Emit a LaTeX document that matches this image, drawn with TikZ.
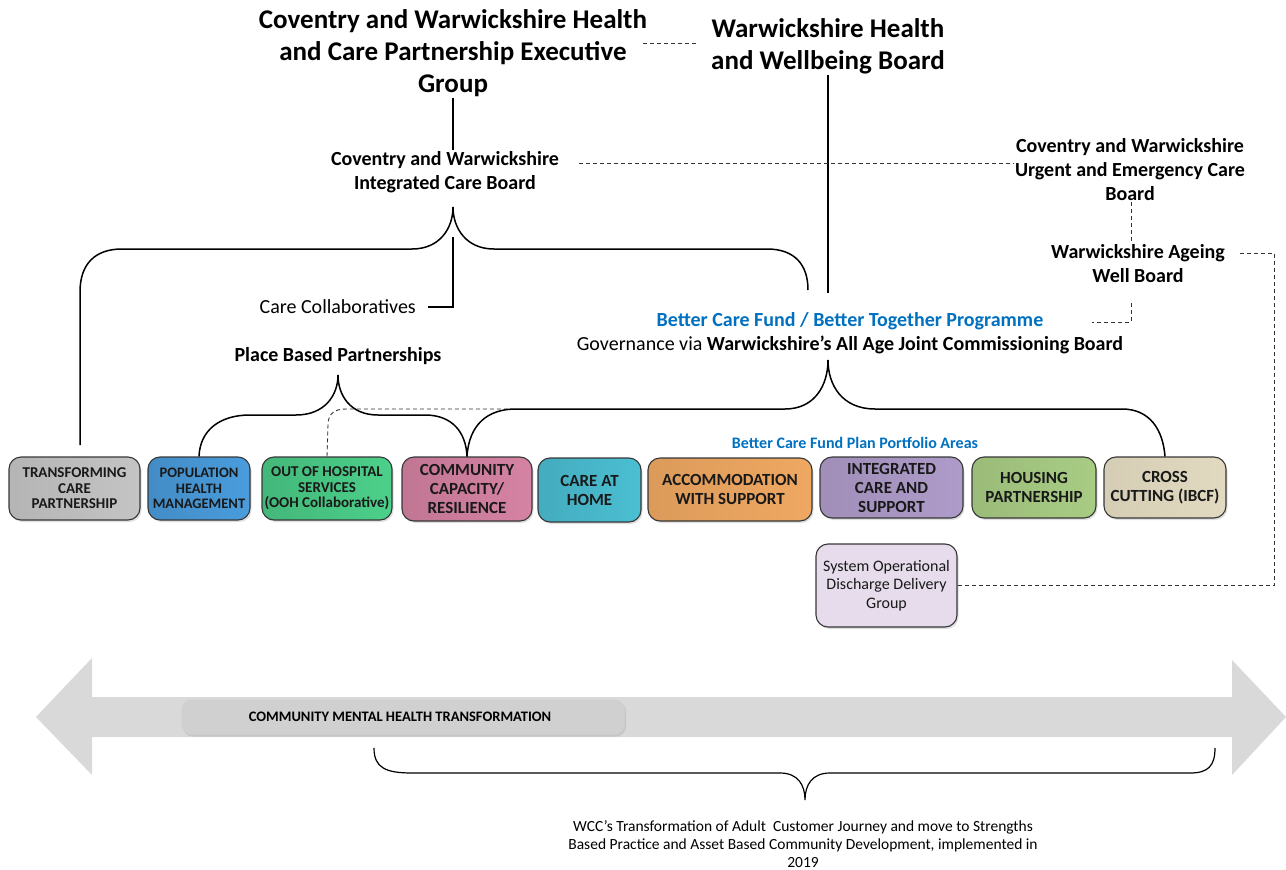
\documentclass[tikz,border=0pt]{standalone}
\usepackage{fontspec}
\setmainfont{Carlito}
\usetikzlibrary{shadows,calc}
\definecolor{bcfblue}{RGB}{0,112,192}
\definecolor{boxline}{RGB}{55,55,55}
\definecolor{cTCP}{RGB}{196,196,196}
\definecolor{cPHM}{RGB}{74,156,220}
\definecolor{cOOH}{RGB}{76,208,138}
\definecolor{cCCR}{RGB}{214,131,163}
\definecolor{cCAH}{RGB}{75,191,211}
\definecolor{cAWS}{RGB}{239,168,98}
\definecolor{cICS}{RGB}{174,155,201}
\definecolor{cHP}{RGB}{168,204,132}
\definecolor{cCC}{RGB}{226,218,192}
\definecolor{cSOD}{RGB}{230,220,235}
\definecolor{arrowgray}{RGB}{217,217,217}
\definecolor{bargray}{RGB}{208,208,208}
\newcommand{\fsz}[2]{\fontsize{#1}{#2}\selectfont}
\begin{document}
\begin{tikzpicture}[x=1pt,y=-1pt,
  titletext/.style={font=\bfseries\fsz{27}{32}, align=center, inner sep=1pt},
  headtext/.style={font=\bfseries\fsz{20}{24}, align=center, inner sep=1pt},
  plaintext/.style={font=\fsz{20}{24}, align=center, inner sep=1pt},
  pbox/.style={rounded corners=12pt, draw=boxline, line width=1.1pt, align=center, inner sep=1pt,
     text=black!90, drop shadow={shadow xshift=1.5pt, shadow yshift=-2pt, opacity=0.25}},
  smallbox/.style={pbox, font=\bfseries\fsz{14.5}{15.5}},
  bigbox/.style={pbox, font=\bfseries\fsz{17}{19}},
  link/.style={line width=1.1pt, black},
  brace/.style={line width=1.5pt, black},
  dlink/.style={line width=0.9pt, black!80, dash pattern=on 4pt off 3pt},
]
\useasboundingbox (0,0) rectangle (1286,870);

% ---- big double arrow ----
\fill[arrowgray] (36,717) -- (92,658) -- (92,697) -- (1232,697) -- (1232,660) -- (1286,717)
  -- (1232,775) -- (1232,737) -- (92,737) -- (92,775) -- cycle;
\node[rounded corners=10pt, fill=bargray, minimum width=443, minimum height=35, inner sep=0pt,
  drop shadow={shadow xshift=1.5pt, shadow yshift=-2pt, opacity=0.2}] (cmht) at (403,717) {};
\node[font=\bfseries\fsz{14.5}{16}] (cmhtlabel) at (400,717) {COMMUNITY MENTAL HEALTH TRANSFORMATION};

% ---- top texts ----
\node[titletext] (exec) at (453,53) {Coventry and Warwickshire Health\\and Care Partnership Executive\\Group};
\node[titletext] (hwb) at (828,46) {Warwickshire Health\\and Wellbeing Board};
\node[headtext] (icb) at (445,172) {Coventry and Warwickshire\\Integrated Care Board};
\node[headtext] (uec) at (1130,170) {Coventry and Warwickshire\\Urgent and Emergency Care\\Board};
\node[headtext] (awb) at (1138,264) {Warwickshire Ageing\\Well Board};
\node[plaintext, anchor=east] (cc) at (417,307) {Care Collaboratives};
\node[headtext] (pbp) at (338,356) {Place Based Partnerships};
\node[headtext, text=bcfblue] (bcf) at (850,321) {Better Care Fund / Better Together Programme};
\node[plaintext] (gov) at (850,345) {Governance via \textbf{Warwickshire’s All Age Joint Commissioning Board}};
\node[font=\bfseries\fsz{16}{18}, text=bcfblue, inner sep=1pt] (port) at (855,443) {Better Care Fund Plan Portfolio Areas};

% ---- boxes ----
\node[smallbox, font=\bfseries\fsz{15}{15.5}, left color=cTCP!92!black, right color=cTCP, minimum width=131, minimum height=63] (tcp) at (74.5,488.5) {TRANSFORMING\\CARE\\PARTNERSHIP};
\node[smallbox, left color=cPHM!90!black, right color=cPHM, minimum width=102, minimum height=63] (phm) at (199,488.5) {POPULATION\\HEALTH\\MANAGEMENT};
\node[smallbox, font=\bfseries\fsz{15}{15.5}, left color=cOOH!88!black, right color=cOOH, minimum width=130, minimum height=63] (ooh) at (327,488.5) {OUT OF HOSPITAL\\SERVICES\\(OOH Collaborative)};
\node[bigbox, left color=cCCR!90!black, right color=cCCR, minimum width=130, minimum height=64] (ccr) at (467,489) {COMMUNITY\\CAPACITY/\\RESILIENCE};
\node[bigbox, left color=cCAH!90!black, right color=cCAH, minimum width=103, minimum height=64] (cah) at (589.5,490) {CARE AT\\HOME};
\node[bigbox, left color=cAWS!92!black, right color=cAWS, minimum width=164, minimum height=63] (aws) at (730,489.5) {ACCOMMODATION\\WITH SUPPORT};
\node[bigbox, left color=cICS!92!black, right color=cICS, minimum width=143, minimum height=61] (ics) at (891.5,487.5) {INTEGRATED\\CARE AND\\SUPPORT};
\node[bigbox, left color=cHP!92!black, right color=cHP, minimum width=124, minimum height=61] (hp) at (1034,487.5) {HOUSING\\PARTNERSHIP};
\node[bigbox, left color=cCC!94!black, right color=cCC, minimum width=122, minimum height=61] (ccut) at (1165,487.5) {CROSS\\CUTTING (IBCF)};
\node[pbox, font=\fsz{16}{18.5}, fill=cSOD, minimum width=141, minimum height=83] (sod) at (886.5,585.5) {System Operational\\Discharge Delivery\\Group};

% ---- bottom text ----
\node[font=\fsz{15.5}{18}, align=center, inner sep=1pt] (wcc) at (803,844) {WCC’s Transformation of Adult\ \ Customer Journey and move to Strengths\\Based Practice and Asset Based Community Development, implemented in\\2019};

% ---- coordinates ----
\coordinate (icbtip) at (453,207);
\coordinate (tcptop) at (80,445);
\coordinate (icbend) at (808,290);
\coordinate (ccjoin) at (453,237);
\coordinate (ccend) at (428,307);
\coordinate (pbptip) at (338,375);
\coordinate (bcftip) at (828,360);
\coordinate (hwbend) at (828,293);
\coordinate (icbr) at (579,163);
\coordinate (rt) at (1274,253);
\coordinate (awbr) at (1240,253);
\coordinate (bcfr) at (1092,322);
\coordinate (bl) at (374,748);
\coordinate (br) at (1215,748);
\coordinate (btip) at (805,800);

% ---- connectors ----
\draw[link] (exec.south) -- (exec.south |- icb.north);
\draw[dlink] (643,43) coordinate (ed) -- (697,43) coordinate (hd);
\draw[link] (hwb.south -| hwbend) -- (hwbend);
\draw[dlink] (icbr) -- (icbr -| uec.west);
\draw[dlink] (uec.south -| 1131,0) -- (awb.north -| 1131,0);
\draw[dlink] (awbr) -- (rt) |- (sod.east);
\draw[dlink] (1131,303) |- (bcfr);
\draw[link] (ccjoin) |- (ccend);

% ICB brace
\draw[brace] (tcptop) -- (80,292) .. controls (80,264) and (95,249) .. (122,249) -- (412,249)
  .. controls (440,249) and (453,228) .. (icbtip)
  .. controls (453,228) and (466,249) .. (494,249) -- (767,249)
  .. controls (795,249) and (808,265) .. (icbend);

% PBP brace
\draw[brace] (phm.north) .. controls (200,430) and (220,415) .. (250,415) -- (296,415)
  .. controls (325,415) and (338,395) .. (pbptip)
  .. controls (338,395) and (350,415) .. (378,415) -- (425,415)
  .. controls (452,415) and (466,432) .. (ccr.north);

% dashed OOH link
\draw[dlink] (ooh.north) -- (328,425) .. controls (328,414) and (334,409) .. (346,409) -- (508,409);

% BCF brace
\draw[brace] (ccr.north) .. controls (469,425) and (487,409) .. (516,409) -- (785,409)
  .. controls (815,409) and (828,385) .. (bcftip)
  .. controls (828,385) and (842,409) .. (875,409) -- (1122,409)
  .. controls (1150,409) and (1163,430) .. (ccut.north);

% bottom brace
\draw[line width=1.2pt] (bl) .. controls (374,768) and (386,773) .. (412,773) -- (780,773)
  .. controls (798,773) and (805,785) .. (btip)
  .. controls (805,785) and (812,773) .. (830,773) -- (1190,773)
  .. controls (1208,773) and (1215,766) .. (br);
\end{tikzpicture}
\end{document}
